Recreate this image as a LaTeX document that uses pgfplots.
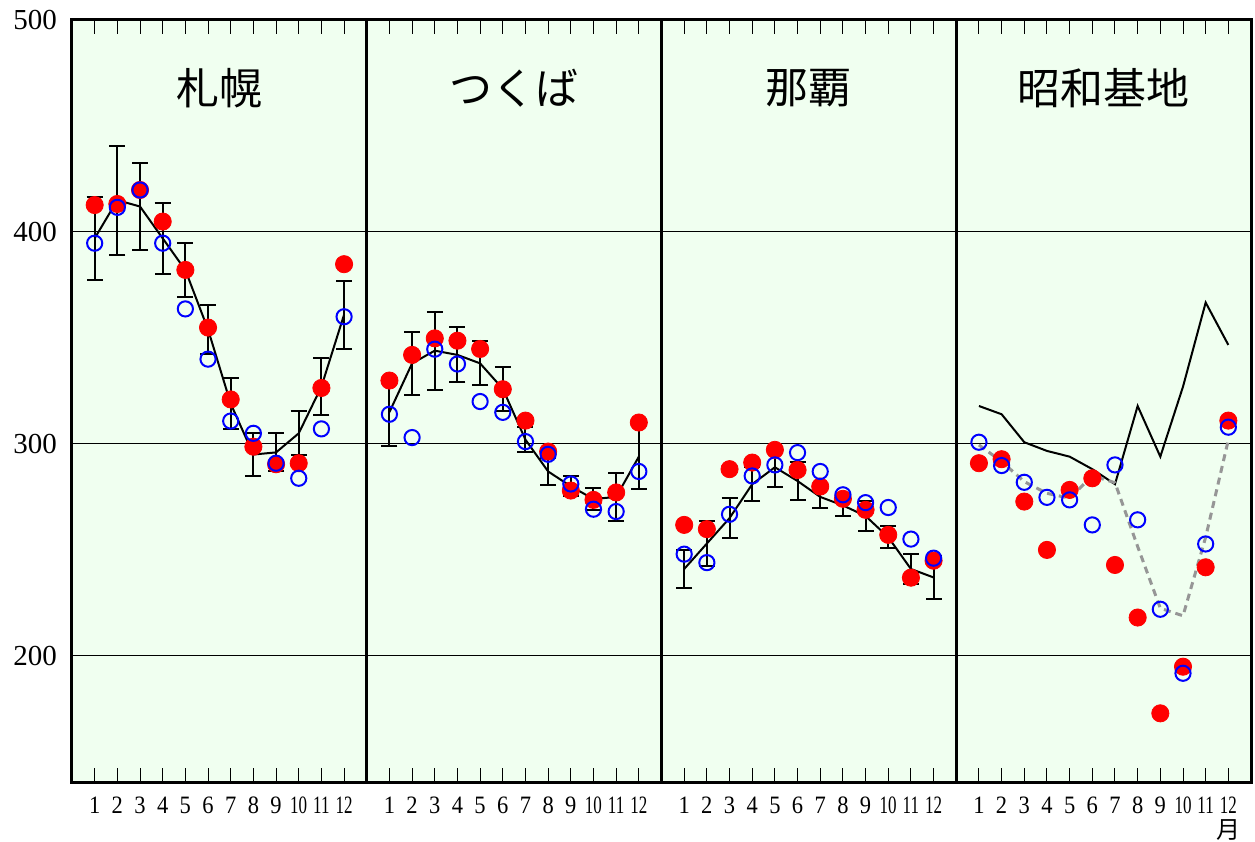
\documentclass[border=0pt]{standalone}
\usepackage{fontspec}
\setmainfont{Liberation Serif}
\newfontfamily\cjk{Noto Sans CJK JP}
\usepackage{graphicx}
\usepackage{pgfplots}
\usepackage{pgfplotstable}
\pgfplotsset{compat=1.18}
\definecolor{bgg}{RGB}{240,255,240}
\definecolor{dgray}{RGB}{150,150,150}
\newcommand\sx[1]{\scalebox{0.9}[1]{#1}}
\newcommand\sxx[1]{\scalebox{0.68}[1]{#1}}

% x = 13*panel + month ; avg/sd = mean line with error bars, obs = red dots, prev = blue circles
\pgfplotstableread{
x avg sd obs prev
1 397 19.6 412.7 394.7
2 415 25.7 413.2 411.6
3 412 20.6 419.8 419.8
4 397 16.8 404.9 394.7
5 382 12.7 382.1 363.7
6 354 11.5 354.9 340.0
7 319 12.0 321.0 310.8
8 295 10.0 298.7 305.0
9 296 9.0 290.4 290.9
10 305 10.3 290.9 283.8
11 327 13.5 326.4 307.1
12 361 16.0 384.8 360.0
}\sapporo
\pgfplotstableread{
x avg sd obs prev
14 315 16.0 329.9 314.0
15 338 15.0 342.0 303.0
16 344 18.4 349.8 344.7
17 342 13.0 348.7 337.7
18 338 10.4 344.8 320.0
19 326 10.3 325.8 314.9
20 302 6.0 311.0 301.1
21 287 6.5 296.4 295.1
22 280 4.7 278.0 281.1
23 274 5.0 273.6 269.2
24 275 11.2 277.1 268.1
25 294 15.5 310.1 287.0
}\tsukuba
\pgfplotstableread{
x avg sd obs prev
27 241 9.0 261.8 248.0
28 253 10.8 259.8 244.0
29 265 9.4 288.1 266.8
30 281 8.0 291.2 284.9
31 289 9.4 297.2 290.1
32 282.5 9.0 287.7 295.9
33 275 5.0 279.9 287.0
34 271 5.0 274.1 276.0
35 266 7.0 268.9 272.3
36 256 5.3 257.1 270.0
37 241 7.2 236.9 255.1
38 237 10.0 244.9 246.1
}\naha
\pgfplotstableread{
x line dash obs prev
40 317.9 299.5 290.9 300.8
41 314.0 291.7 292.8 289.8
42 300.8 282.2 272.8 281.9
43 296.7 276.7 250.0 274.8
44 294.0 274.4 278.3 273.6
45 288.1 285.0 283.8 261.8
46 281.0 281.7 242.9 290.1
47 317.9 251.6 218.1 264.2
48 294.0 222.5 172.9 222.0
49 327.0 218.9 194.9 191.8
50 366.7 256.0 241.8 252.8
51 346.7 301.9 311.0 307.9
}\syowa

\pgfplotsset{
  avgbars/.style={black, line width=1pt, mark=none,
    error bars/.cd, y dir=both, y explicit,
    error bar style={line width=1pt},
    error mark options={rotate=90, mark size=4pt, line width=1pt}},
  reddot/.style={only marks, mark=*, mark size=4.3pt, red},
  bluering/.style={only marks, mark=o, mark size=3.8pt, blue, mark options={line width=1pt}},
}

\begin{document}
\begin{tikzpicture}
\begin{axis}[
    scale only axis,
    width=589.5pt, height=381pt,
    xmin=0, xmax=52,
    ymin=140.5, ymax=500,
    axis background/.style={fill=bgg},
    axis line style={line width=1.5pt},
    xtick={1,2,3,4,5,6,7,8,9,10,11,12,14,15,16,17,18,19,20,21,22,23,24,25,27,28,29,30,31,32,33,34,35,36,37,38,40,41,42,43,44,45,46,47,48,49,50,51},
    xticklabels={\sx{1},\sx{2},\sx{3},\sx{4},\sx{5},\sx{6},\sx{7},\sx{8},\sx{9},\sxx{10},\sxx{11},\sxx{12},
                 \sx{1},\sx{2},\sx{3},\sx{4},\sx{5},\sx{6},\sx{7},\sx{8},\sx{9},\sxx{10},\sxx{11},\sxx{12},
                 \sx{1},\sx{2},\sx{3},\sx{4},\sx{5},\sx{6},\sx{7},\sx{8},\sx{9},\sxx{10},\sxx{11},\sxx{12},
                 \sx{1},\sx{2},\sx{3},\sx{4},\sx{5},\sx{6},\sx{7},\sx{8},\sx{9},\sxx{10},\sxx{11},\sxx{12}},
    xtick pos=both,
    tick align=inside,
    major tick length=7pt,
    xtick style={black, line width=0.5pt},
    xticklabel style={font=\fontsize{12.5}{14}\selectfont},
    xticklabel shift=4pt,
    ytick={200,300,400,500},
    ytick style={draw=none},
    yticklabel style={font=\fontsize{14.5}{16}\selectfont},
    yticklabel shift=4pt,
    ymajorgrids,
    major grid style={black, line width=0.5pt},
    extra x ticks={13,26,39},
    extra x tick labels={},
    extra x tick style={grid=major, major grid style={black, line width=1.5pt}, tick style={draw=none}},
    /pgf/number format/assume math mode=true,
    clip=false,
]
% mean lines with error bars
\addplot[avgbars] table[x=x, y=avg, y error=sd]{\sapporo};
\addplot[avgbars] table[x=x, y=avg, y error=sd]{\tsukuba};
\addplot[avgbars] table[x=x, y=avg, y error=sd]{\naha};
\addplot[black, line width=1pt, mark=none] table[x=x, y=line]{\syowa};
\addplot[dgray, line width=1.5pt, dash pattern=on 3.5pt off 2.5pt, mark=none] table[x=x, y=dash]{\syowa};
% red dots
\addplot[reddot] table[x=x, y=obs]{\sapporo};
\addplot[reddot] table[x=x, y=obs]{\tsukuba};
\addplot[reddot] table[x=x, y=obs]{\naha};
\addplot[reddot] table[x=x, y=obs]{\syowa};
% blue circles
\addplot[bluering] table[x=x, y=prev]{\sapporo};
\addplot[bluering] table[x=x, y=prev]{\tsukuba};
\addplot[bluering] table[x=x, y=prev]{\naha};
\addplot[bluering] table[x=x, y=prev]{\syowa};

\node[font=\cjk\fontsize{21.5}{24}\selectfont] at (axis cs:6.5,468) {札幌};
\node[font=\cjk\fontsize{21.5}{24}\selectfont] at (axis cs:19.5,468) {つくば};
\node[font=\cjk\fontsize{21.5}{24}\selectfont] at (axis cs:32.5,468) {那覇};
\node[font=\cjk\fontsize{21.5}{24}\selectfont] at (axis cs:45.5,468) {昭和基地};
\node[font=\cjk\fontsize{12}{14}\selectfont, inner sep=0pt] at ([yshift=-24pt]axis cs:51,140.5) {月};
\path (rel axis cs:0,0) ++(-36pt,-29.5pt) coordinate (bbA);
\path (rel axis cs:1,1) ++(2pt,10pt) coordinate (bbB);
\path (bbA) rectangle (bbB);
\end{axis}
\end{tikzpicture}
\end{document}
